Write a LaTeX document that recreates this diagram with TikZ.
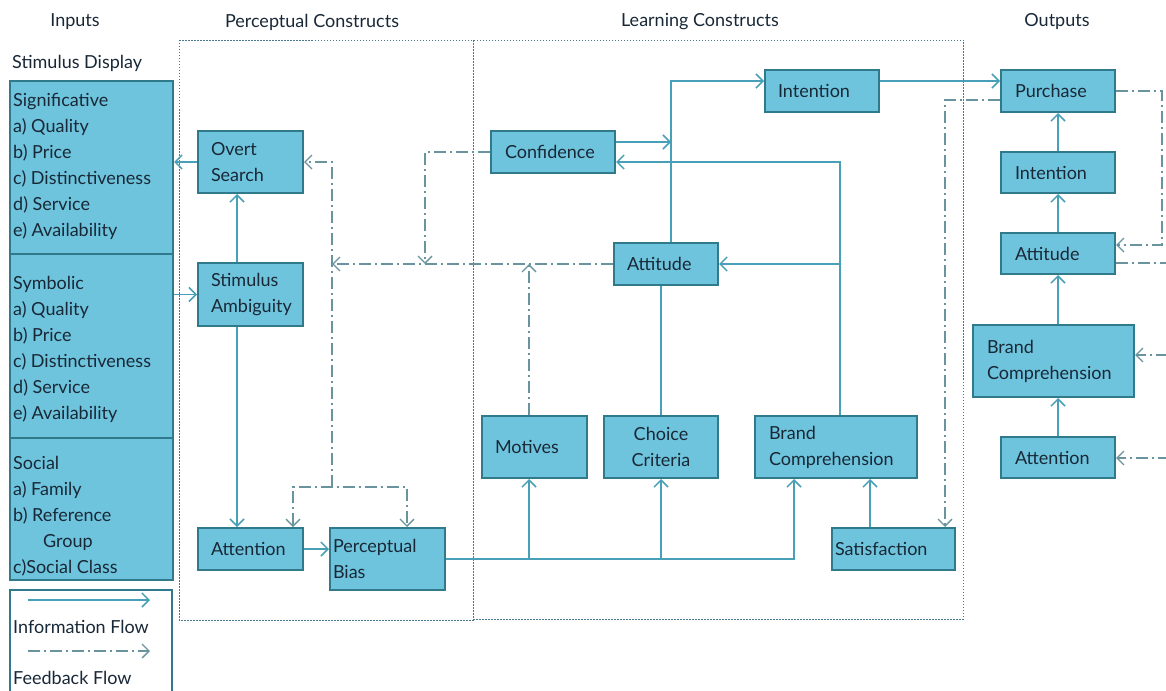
\documentclass[tikz,border=0pt]{standalone}
\usepackage{fontspec}
\setmainfont{Lato}
\usetikzlibrary{arrows.meta,calc}
\definecolor{boxfill}{RGB}{110,196,221}
\definecolor{boxdraw}{RGB}{49,122,140}
\definecolor{infocol}{RGB}{72,160,184}
\definecolor{fbcol}{RGB}{105,148,158}
\definecolor{framecol}{RGB}{74,120,140}
\definecolor{txtcol}{RGB}{25,40,55}
\begin{document}
\begin{tikzpicture}[x=1pt,y=-1pt,
  every node/.style={font=\fontsize{18}{26}\selectfont, text=txtcol},
  bx/.style={draw=boxdraw, fill=boxfill, line width=2pt, align=left, inner ysep=0pt},
  info/.style={draw=infocol, line width=1.5pt},
  fb/.style={draw=fbcol, line width=1.3pt, dash pattern=on 12pt off 4pt on 2pt off 4pt},
  cframe/.style={draw=framecol, line width=0.9pt, dash pattern=on 1.5pt off 1.5pt},
  arr/.style={-{Straight Barb[length=7pt,width=14pt]}},
  arrboth/.style={{Straight Barb[length=7pt,width=14pt]}-{Straight Barb[length=7pt,width=14pt]}},
  plain/.style={inner sep=0pt}
]
\useasboundingbox (0,0) rectangle (1166,690);

% headers
\node[plain] (hIn) at (75,22) {Inputs};
\node[plain] (hPe) at (312,22) {Perceptual Constructs};
\node[plain] (hLe) at (700,22) {Learning Constructs};
\node[plain] (hOu) at (1057,22) {Outputs};
\node[plain, anchor=west] (hSD) at (12,63) {Stimulus Display};

% construct frames
\draw[cframe] (179,40) rectangle (473,620);
\draw[cframe] (473,40) rectangle (963,619);

% input box
\node[bx, minimum width=163, minimum height=173, anchor=north west, inner sep=0pt] (sig) at (9,80) {};
\node[bx, minimum width=163, minimum height=184, anchor=north west, inner sep=0pt] (sym) at (9,253) {};
\node[bx, minimum width=163, minimum height=142, anchor=north west, inner sep=0pt] (soc) at (9,437) {};
\node[plain, anchor=north west, align=left] (sigT) at (13,87.8) {\strut Significative\\a) Quality\\b) Price\\c) Distinctiveness\\d) Service\\e) Availability};
\node[plain, anchor=north west, align=left] (symT) at (13,270.8) {\strut Symbolic\\a) Quality\\b) Price\\c) Distinctiveness\\d) Service\\e) Availability};
\node[plain, anchor=north west, align=left] (socT) at (13,450.8) {\strut Social\\a) Family\\b) Reference\\\hspace*{30pt}Group\\c)Social Class};

% legend
\node[draw=boxdraw, line width=2pt, minimum width=162, minimum height=112, anchor=north west, inner sep=0pt] (leg) at (9,589) {};
\coordinate (la1) at (28,600);
\coordinate (la2) at (150,600);
\coordinate (lb1) at (28,651);
\coordinate (lb2) at (150,651);
\draw[info,arr] (la1) -- (la2);
\draw[fb,arr] (lb1) -- (lb2);
\node[plain, anchor=west] (lt1) at (13,627) {Information Flow};
\node[plain, anchor=west] (lt2) at (13,678) {Feedback Flow};

% perceptual
\node[bx, minimum height=62, text width=79, inner xsep=13] (overt) at (250.5,162) {Overt\\Search};
\node[bx, minimum height=63, text width=79, inner xsep=13] (stim) at (250.5,294.5) {Stimulus\\Ambiguity};
\node[bx, minimum height=42, text width=79, inner xsep=13] (att1) at (250.5,549) {Attention};
\node[bx, minimum height=62, text width=109, inner xsep=3] (pbias) at (387.5,559) {Perceptual\\Bias};

% learning
\node[bx, minimum height=42, text width=96, inner xsep=14] (conf) at (553,152) {Confidence};
\node[bx, minimum height=42, text width=88, inner xsep=13] (int1) at (822,91) {Intention};
\node[bx, minimum height=42, text width=78, inner xsep=13] (att2) at (666,264) {Attitude};
\node[bx, minimum height=62, text width=79, inner xsep=13] (mot) at (534.5,447) {Motives};
\node[bx, minimum height=62, text width=100, inner xsep=7, align=center] (choice) at (661,447) {Choice\\Criteria};
\node[bx, minimum height=62, text width=134, inner xsep=14] (brand1) at (836,447) {Brand\\Comprehension};
\node[bx, minimum height=42, text width=117, inner xsep=3] (sat) at (893.5,549) {Satisfaction};

% outputs
\node[bx, minimum height=42, text width=86, inner xsep=14] (purch) at (1058,91) {Purchase};
\node[bx, minimum height=41, text width=86, inner xsep=14] (int2) at (1058,172.5) {Intention};
\node[bx, minimum height=41, text width=86, inner xsep=14] (att3) at (1058,253.5) {Attitude};
\node[bx, minimum height=72, text width=133, inner xsep=14] (brand2) at (1053.5,361) {Brand\\Comprehension};
\node[bx, minimum height=41, text width=86, inner xsep=14] (att4) at (1058,457.5) {Attention};

% helper coordinates
\coordinate (sx) at (237,0);
\coordinate (bcx) at (794,0);
\coordinate (mx) at (529,0);
\coordinate (sx2) at (870,0);
\coordinate (bj) at (840,0);
\coordinate (aj) at (671,0);
\coordinate (ce) at ([yshift=10pt]conf.east);
\coordinate (ie) at ([yshift=10pt]int1.east);
\coordinate (ca) at (425,0);
\coordinate (cb) at (332,0);
\coordinate (brk) at (332,487);
\coordinate (ax) at (293,0);
\coordinate (px) at (407,0);
\coordinate (px2) at (945,0);
\coordinate (pw) at ([yshift=-9pt]purch.west);
\coordinate (cr) at (1162,245);
\coordinate (er1) at (1170,263);
\coordinate (er2) at (1168,355);
\coordinate (er3) at (1170,458);

% information flow
\draw[info,arr] (overt.west) -- (overt.west -| sig.east);
\draw[info,arr] (sx |- stim.north) -- (sx |- overt.south);
\draw[info,arr] (sym.east |- stim.west) -- (stim.west);
\draw[info,arr] (sx |- stim.south) -- (sx |- att1.north);
\draw[info,arr] (att1.east) -- (att1.east -| pbias.west);
\draw[info,arr] (pbias.east) -| (bcx |- brand1.south);
\draw[info,arr] (mx |- pbias.east) -- (mx |- mot.south);
\draw[info,arr] (choice.south |- pbias.east) -- (choice.south);
\draw[info,arr] (sx2 |- sat.north) -- (sx2 |- brand1.south);
\draw[info,arr] (bj |- brand1.north) |- ([yshift=-10pt]conf.east);
\draw[info,arr] (bj |- att2.east) -- (att2.east);
\draw[info,arr] (aj |- att2.north) |- ([yshift=10pt]int1.west);
\draw[info,arr] (ce) -- (ce -| aj);
\draw[info] (choice.north) -- (choice.north |- att2.south);
\draw[info,arr] (ie) -- (ie -| purch.west);
\draw[info,arr] (int2.north) -- (purch.south);
\draw[info,arr] (att3.north) -- (int2.south);
\draw[info,arr] (att3.south |- brand2.north) -- (att3.south);
\draw[info,arr] (att4.north) -- (att4.north |- brand2.south);

% feedback flow
\draw[fb,arr] (conf.west) -| (ca |- att2.west);
\draw[fb,arr] (att2.west) -- (cb |- att2.west);
\draw[fb,arr] (brk) |- (overt.east);
\draw[fb,arrboth] (ax |- att1.north) |- (brk) -| (px |- pbias.north);
\draw[fb,arr] (mx |- mot.north) -- (mx |- att2.west);
\draw[fb,arr] (pw) -| (px2 |- sat.north);
\draw[fb,arr] (purch.east) -| (cr) -- (cr -| att3.east);
\draw[fb] (er1 -| att3.east) -- (er1);
\draw[fb,arr] (er2) -- (er2 -| brand2.east);
\draw[fb,arr] (er3) -- (er3 -| att4.east);
\end{tikzpicture}
\end{document}
